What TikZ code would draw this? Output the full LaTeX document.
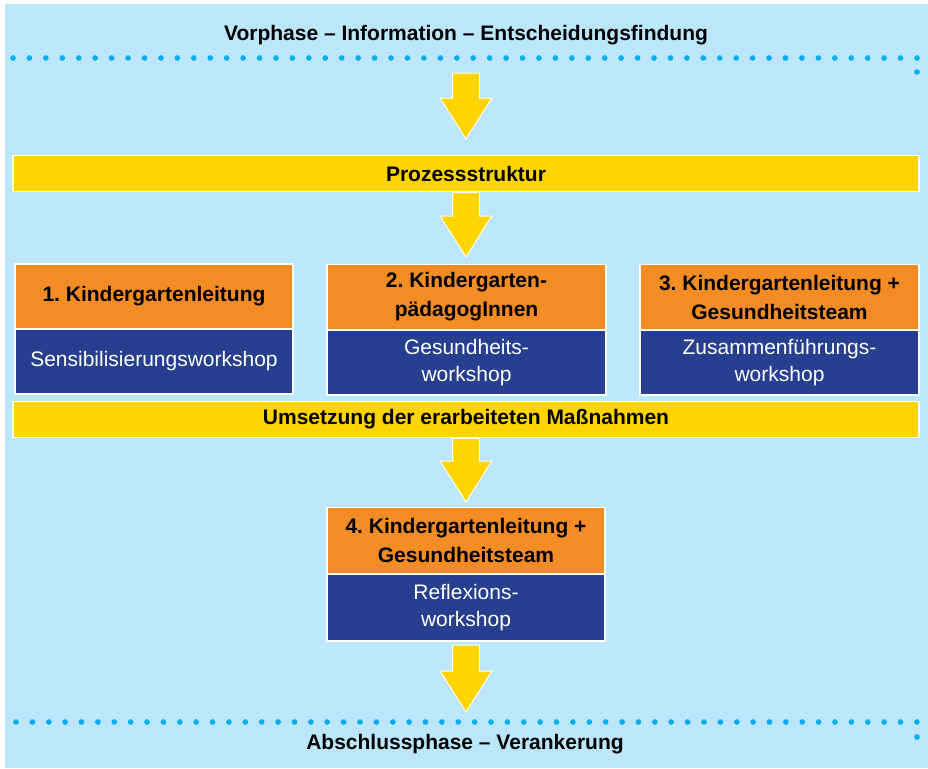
\documentclass[tikz,border=0pt]{standalone}
\usepackage{fontspec}
\setmainfont{Liberation Sans}
\usetikzlibrary{calc}
\frenchspacing
\definecolor{bgblue}{RGB}{188,230,249}
\definecolor{dotblue}{RGB}{0,174,239}
\definecolor{ayellow}{RGB}{255,213,0}
\definecolor{aorange}{RGB}{244,140,38}
\definecolor{anavy}{RGB}{38,63,142}
\newcommand\bigarrow[2]{%
  \path let \p1=(#1), \p2=(#2) in
    [fill=ayellow, draw=white, line width=1pt, line join=miter]
    (\x1-13.5pt,\y1) -- (\x1+13.5pt,\y1) -- (\x1+13.5pt,\y2+41pt)
    -- (\x1+26pt,\y2+41pt) -- (\x2,\y2) -- (\x1-26pt,\y2+41pt)
    -- (\x1-13.5pt,\y2+41pt) -- cycle;}
\tikzset{
  titletext/.style={font=\bfseries\fontsize{21}{25}\selectfont, text=black, inner sep=0pt},
  barbox/.style={fill=ayellow, draw=white, line width=1.5pt, minimum width=906pt, minimum height=36pt, inner sep=0pt,
    font=\bfseries\fontsize{21}{25}\selectfont},
  orangebox/.style={fill=aorange, draw=white, line width=1.5pt, minimum width=279pt, minimum height=65pt, inner sep=0pt,
    align=center, font=\bfseries\fontsize{21}{29}\selectfont},
  bluebox/.style={fill=anavy, draw=white, line width=1.5pt, minimum width=279pt, minimum height=65pt, inner sep=0pt,
    align=center, text=white, font=\fontsize{21}{27.5}\selectfont},
  dot/.style={fill=dotblue}
}
\begin{document}
\begin{tikzpicture}[x=1pt, y=-1pt]
\useasboundingbox (0,0) rectangle (928,768);
\fill[white] (0,0) rectangle (928,768);
\fill[bgblue] (5,4) rectangle (928,768);

% titles
\node[titletext] (top) at (466,35) {Vorphase – Information – Entscheidungsfindung};
\node[titletext] (bottom) at (465,744) {Abschlussphase – Verankerung};

% dotted lines
\foreach \i in {0,...,55} \fill[dot] (13+\i*16.436,58) circle (2.8);
\fill[dot] (917,72) circle (2.8);
\foreach \i in {0,...,55} \fill[dot] (16+\i*16.38,722) circle (2.8);
\fill[dot] (917,737) circle (2.8);

% bars
\node[barbox] (proz) at (466,173.5) {Prozessstruktur};
\node[barbox] (ums) at (466,419.5) {Umsetzung der erarbeiteten Maßnahmen};

% boxes row
\node[orangebox, minimum width=278pt] (o1) at (154,296.5) {1. Kindergartenleitung};
\node[bluebox, minimum width=278pt] (b1) at (154,361.5) {Sensibilisierungsworkshop};
\node[orangebox] (o2) at (466.5,297) {2. Kindergarten-\\pädagogInnen};
\node[bluebox] (b2) at (466.5,362.5) {Gesundheits-\\workshop};
\node[orangebox] (o3) at (779.5,297) {3. Kindergartenleitung +\\Gesundheitsteam};
\node[bluebox] (b3) at (779.5,362.5) {Zusammenführungs-\\workshop};

% box 4
\node[orangebox, minimum width=278pt, minimum height=66pt] (o4) at (466,540.5) {4. Kindergartenleitung +\\Gesundheitsteam};
\node[bluebox, minimum width=278pt, minimum height=67pt] (b4) at (466,607.5) {Reflexions-\\workshop};

% arrow end points
\coordinate (a1s) at (466,73);  \coordinate (a1e) at (466,139);
\coordinate (a2s) at (proz.south); \coordinate (a2e) at (466,257);
\coordinate (a3s) at (ums.south);  \coordinate (a3e) at (466,502);
\coordinate (a4s) at (466,645); \coordinate (a4e) at (466,712);
\bigarrow{a1s}{a1e}
\bigarrow{a2s}{a2e}
\bigarrow{a3s}{a3e}
\bigarrow{a4s}{a4e}
\end{tikzpicture}
\end{document}
